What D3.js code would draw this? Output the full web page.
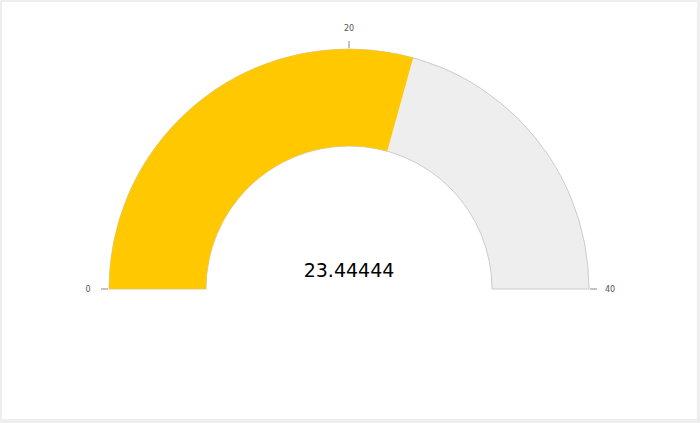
<!DOCTYPE html>
<html><head><meta charset="utf-8">
<script src="https://cdn.jsdelivr.net/npm/d3@7"></script>
<style>
html,body{margin:0;padding:0;background:#eeeeee;}
svg{display:block;}
</style></head>
<body>
<svg id="chart" width="700" height="423"></svg>
<script>
const gaugeMin = 0;
const gaugeMax = 40;
const gaugeValue = 23.44444;
const valueLabel = "23.44444";
const tickValues = [0, 20, 40];
const tickLabels = ["0", "20", "40"];

const svg = d3.select("#chart");
svg.append("rect").attr("x", 2).attr("y", 2).attr("width", 695).attr("height", 417).attr("fill", "#ffffff");

const cx = 349, cy = 289, rOuter = 240, rInner = 143;
const angle = d3.scaleLinear().domain([gaugeMin, gaugeMax]).range([-Math.PI / 2, Math.PI / 2]);
const g = svg.append("g").attr("transform", `translate(${cx},${cy})`);
const arc = d3.arc().innerRadius(rInner).outerRadius(rOuter);

g.append("path")
  .attr("d", arc({startAngle: angle(gaugeMin), endAngle: angle(gaugeMax)}))
  .attr("fill", "#eeeeee").attr("stroke", "#cccccc").attr("stroke-width", 1);
g.append("path")
  .attr("d", arc({startAngle: angle(gaugeMin), endAngle: angle(gaugeValue)}))
  .attr("fill", "#ffc800");

tickValues.forEach((v, i) => {
  const a = angle(v);
  const sx = Math.sin(a), sy = -Math.cos(a);
  g.append("line")
    .attr("x1", sx * (rOuter + 1)).attr("y1", sy * (rOuter + 1))
    .attr("x2", sx * (rOuter + 8)).attr("y2", sy * (rOuter + 8))
    .attr("stroke", "#888888").attr("stroke-width", 1);
  g.append("text")
    .attr("x", sx * 261).attr("y", sy * 261 + 0.5)
    .attr("text-anchor", "middle").attr("dominant-baseline", "central")
    .attr("font-family", "DejaVu Sans, sans-serif").attr("font-size", 8)
    .attr("fill", "#555555").text(tickLabels[i]);
});

g.append("text")
  .attr("x", 0).attr("y", -19)
  .attr("text-anchor", "middle").attr("dominant-baseline", "central")
  .attr("font-family", "DejaVu Sans, sans-serif").attr("font-size", 19)
  .attr("fill", "#000000").text(valueLabel);
</script>
</body></html>
